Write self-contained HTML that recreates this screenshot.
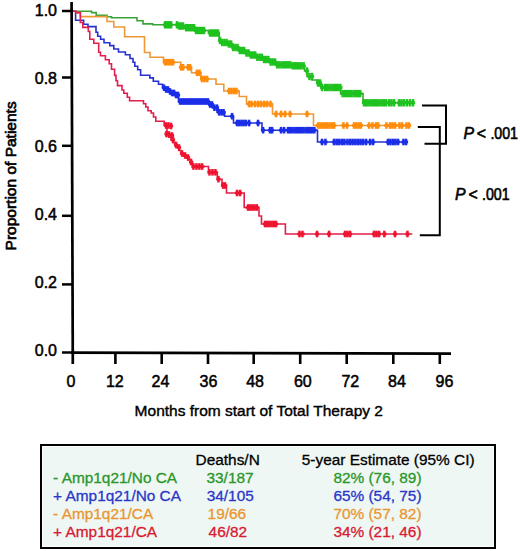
<!DOCTYPE html>
<html><head><meta charset="utf-8"><style>
html,body{margin:0;padding:0;background:#fff;width:520px;height:551px;overflow:hidden}
body{position:relative;font-family:"Liberation Sans",sans-serif}
svg{position:absolute;left:0;top:0}
.tk{font-family:"Liberation Sans",sans-serif;font-size:16px;fill:#000;stroke:#000;stroke-width:0.5px}
.pv{font-family:"Liberation Sans",sans-serif;font-size:15px;fill:#000;stroke:#000;stroke-width:0.6px}
.ttl{font-family:"Liberation Sans",sans-serif;font-size:15.5px;fill:#000;stroke:#000;stroke-width:0.4px}
.lg text{font-family:"Liberation Sans",sans-serif;font-size:15.4px;stroke-width:0.3px}
#leg{position:absolute;left:40px;top:443.5px;width:452px;height:101.5px;border:2px solid #000;background:#eef7f4;box-shadow:inset 0 0 0 1px #fff}
</style></head><body>
<div id="leg"></div>
<svg width="520" height="551" viewBox="0 0 520 551">
<path d="M72.5,11.3H91.5V12.6H96.2V15.3H107V16.8H111.5V17.7H137V20.8H143V23.9H152.7V24.8H177V26H184.6V27.7H194.6V30.5H208.5V33H219.2V40.5H222V42.5H228V44H233V47.5H239V50.5H244.6V53H250V55H256V57.3H263V59.5H270V62H276V64.8H291.5V65.8H304.6V71H307V76.5H312V80H317V83H321V87.5H340.6V93.6H363V102.8H413.6" fill="none" stroke="#38a438" stroke-width="1.6"/><g fill="#1ec21e"><rect x="163.8" y="21.1" width="2.5" height="7.4"/><rect x="162.9" y="23.4" width="4.2" height="2.8"/><rect x="165.8" y="21.1" width="2.5" height="7.4"/><rect x="164.9" y="23.4" width="4.2" height="2.8"/><rect x="167.8" y="21.1" width="2.5" height="7.4"/><rect x="166.9" y="23.4" width="4.2" height="2.8"/><rect x="169.8" y="21.1" width="2.5" height="7.4"/><rect x="168.9" y="23.4" width="4.2" height="2.8"/><rect x="175.8" y="21.1" width="2.5" height="7.4"/><rect x="174.9" y="23.4" width="4.2" height="2.8"/><rect x="177.8" y="22.3" width="2.5" height="7.4"/><rect x="176.9" y="24.6" width="4.2" height="2.8"/><rect x="179.8" y="22.3" width="2.5" height="7.4"/><rect x="178.9" y="24.6" width="4.2" height="2.8"/><rect x="181.8" y="22.3" width="2.5" height="7.4"/><rect x="180.9" y="24.6" width="4.2" height="2.8"/><rect x="184.8" y="24.0" width="2.5" height="7.4"/><rect x="183.9" y="26.3" width="4.2" height="2.8"/><rect x="186.8" y="24.0" width="2.5" height="7.4"/><rect x="185.9" y="26.3" width="4.2" height="2.8"/><rect x="188.8" y="24.0" width="2.5" height="7.4"/><rect x="187.9" y="26.3" width="4.2" height="2.8"/><rect x="190.8" y="24.0" width="2.5" height="7.4"/><rect x="189.9" y="26.3" width="4.2" height="2.8"/><rect x="192.8" y="24.0" width="2.5" height="7.4"/><rect x="191.9" y="26.3" width="4.2" height="2.8"/><rect x="194.8" y="26.8" width="2.5" height="7.4"/><rect x="193.9" y="29.1" width="4.2" height="2.8"/><rect x="196.8" y="26.8" width="2.5" height="7.4"/><rect x="195.9" y="29.1" width="4.2" height="2.8"/><rect x="198.8" y="26.8" width="2.5" height="7.4"/><rect x="197.9" y="29.1" width="4.2" height="2.8"/><rect x="200.8" y="26.8" width="2.5" height="7.4"/><rect x="199.9" y="29.1" width="4.2" height="2.8"/><rect x="202.8" y="26.8" width="2.5" height="7.4"/><rect x="201.9" y="29.1" width="4.2" height="2.8"/><rect x="208.8" y="29.3" width="2.5" height="7.4"/><rect x="207.9" y="31.6" width="4.2" height="2.8"/><rect x="210.8" y="29.3" width="2.5" height="7.4"/><rect x="209.9" y="31.6" width="4.2" height="2.8"/><rect x="212.8" y="29.3" width="2.5" height="7.4"/><rect x="211.9" y="31.6" width="4.2" height="2.8"/><rect x="214.8" y="29.3" width="2.5" height="7.4"/><rect x="213.9" y="31.6" width="4.2" height="2.8"/><rect x="216.8" y="29.3" width="2.5" height="7.4"/><rect x="215.9" y="31.6" width="4.2" height="2.8"/><rect x="218.8" y="36.8" width="2.5" height="7.4"/><rect x="217.9" y="39.1" width="4.2" height="2.8"/><rect x="220.9" y="38.8" width="2.5" height="7.4"/><rect x="220.1" y="41.1" width="4.2" height="2.8"/><rect x="223.2" y="38.8" width="2.5" height="7.4"/><rect x="222.3" y="41.1" width="4.2" height="2.8"/><rect x="225.3" y="38.8" width="2.5" height="7.4"/><rect x="224.5" y="41.1" width="4.2" height="2.8"/><rect x="227.6" y="40.3" width="2.5" height="7.4"/><rect x="226.7" y="42.6" width="4.2" height="2.8"/><rect x="229.8" y="40.3" width="2.5" height="7.4"/><rect x="228.9" y="42.6" width="4.2" height="2.8"/><rect x="231.9" y="43.8" width="2.5" height="7.4"/><rect x="231.1" y="46.1" width="4.2" height="2.8"/><rect x="234.2" y="43.8" width="2.5" height="7.4"/><rect x="233.3" y="46.1" width="4.2" height="2.8"/><rect x="236.3" y="43.8" width="2.5" height="7.4"/><rect x="235.5" y="46.1" width="4.2" height="2.8"/><rect x="238.6" y="46.8" width="2.5" height="7.4"/><rect x="237.7" y="49.1" width="4.2" height="2.8"/><rect x="240.8" y="46.8" width="2.5" height="7.4"/><rect x="239.9" y="49.1" width="4.2" height="2.8"/><rect x="242.9" y="46.8" width="2.5" height="7.4"/><rect x="242.1" y="49.1" width="4.2" height="2.8"/><rect x="245.2" y="49.3" width="2.5" height="7.4"/><rect x="244.3" y="51.6" width="4.2" height="2.8"/><rect x="247.3" y="49.3" width="2.5" height="7.4"/><rect x="246.5" y="51.6" width="4.2" height="2.8"/><rect x="249.6" y="51.3" width="2.5" height="7.4"/><rect x="248.7" y="53.6" width="4.2" height="2.8"/><rect x="251.8" y="51.3" width="2.5" height="7.4"/><rect x="250.9" y="53.6" width="4.2" height="2.8"/><rect x="253.9" y="51.3" width="2.5" height="7.4"/><rect x="253.1" y="53.6" width="4.2" height="2.8"/><rect x="256.1" y="53.6" width="2.5" height="7.4"/><rect x="255.3" y="55.9" width="4.2" height="2.8"/><rect x="258.4" y="53.6" width="2.5" height="7.4"/><rect x="257.5" y="55.9" width="4.2" height="2.8"/><rect x="260.6" y="53.6" width="2.5" height="7.4"/><rect x="259.7" y="55.9" width="4.2" height="2.8"/><rect x="262.8" y="55.8" width="2.5" height="7.4"/><rect x="261.9" y="58.1" width="4.2" height="2.8"/><rect x="264.9" y="55.8" width="2.5" height="7.4"/><rect x="264.1" y="58.1" width="4.2" height="2.8"/><rect x="267.1" y="55.8" width="2.5" height="7.4"/><rect x="266.3" y="58.1" width="4.2" height="2.8"/><rect x="269.4" y="58.3" width="2.5" height="7.4"/><rect x="268.5" y="60.6" width="4.2" height="2.8"/><rect x="271.6" y="58.3" width="2.5" height="7.4"/><rect x="270.7" y="60.6" width="4.2" height="2.8"/><rect x="273.8" y="58.3" width="2.5" height="7.4"/><rect x="272.9" y="60.6" width="4.2" height="2.8"/><rect x="275.9" y="61.1" width="2.5" height="7.4"/><rect x="275.1" y="63.4" width="4.2" height="2.8"/><rect x="278.1" y="61.1" width="2.5" height="7.4"/><rect x="277.3" y="63.4" width="4.2" height="2.8"/><rect x="280.4" y="61.1" width="2.5" height="7.4"/><rect x="279.5" y="63.4" width="4.2" height="2.8"/><rect x="282.6" y="61.1" width="2.5" height="7.4"/><rect x="281.7" y="63.4" width="4.2" height="2.8"/><rect x="284.8" y="61.1" width="2.5" height="7.4"/><rect x="283.9" y="63.4" width="4.2" height="2.8"/><rect x="286.9" y="61.1" width="2.5" height="7.4"/><rect x="286.1" y="63.4" width="4.2" height="2.8"/><rect x="289.1" y="61.1" width="2.5" height="7.4"/><rect x="288.3" y="63.4" width="4.2" height="2.8"/><rect x="291.4" y="62.1" width="2.5" height="7.4"/><rect x="290.5" y="64.4" width="4.2" height="2.8"/><rect x="293.6" y="62.1" width="2.5" height="7.4"/><rect x="292.7" y="64.4" width="4.2" height="2.8"/><rect x="295.8" y="62.1" width="2.5" height="7.4"/><rect x="294.9" y="64.4" width="4.2" height="2.8"/><rect x="297.9" y="62.1" width="2.5" height="7.4"/><rect x="297.1" y="64.4" width="4.2" height="2.8"/><rect x="300.1" y="62.1" width="2.5" height="7.4"/><rect x="299.3" y="64.4" width="4.2" height="2.8"/><rect x="302.4" y="62.1" width="2.5" height="7.4"/><rect x="301.5" y="64.4" width="4.2" height="2.8"/><rect x="305.8" y="67.3" width="2.5" height="7.4"/><rect x="304.9" y="69.6" width="4.2" height="2.8"/><rect x="308.2" y="72.8" width="2.5" height="7.4"/><rect x="307.4" y="75.1" width="4.2" height="2.8"/><rect x="310.8" y="72.8" width="2.5" height="7.4"/><rect x="309.9" y="75.1" width="4.2" height="2.8"/><rect x="316.8" y="79.3" width="2.5" height="7.4"/><rect x="315.9" y="81.6" width="4.2" height="2.8"/><rect x="318.8" y="79.3" width="2.5" height="7.4"/><rect x="317.9" y="81.6" width="4.2" height="2.8"/><rect x="320.8" y="83.8" width="2.5" height="7.4"/><rect x="319.9" y="86.1" width="4.2" height="2.8"/><rect x="323.8" y="83.8" width="2.5" height="7.4"/><rect x="322.9" y="86.1" width="4.2" height="2.8"/><rect x="325.9" y="83.8" width="2.5" height="7.4"/><rect x="325.1" y="86.1" width="4.2" height="2.8"/><rect x="328.1" y="83.8" width="2.5" height="7.4"/><rect x="327.3" y="86.1" width="4.2" height="2.8"/><rect x="330.4" y="83.8" width="2.5" height="7.4"/><rect x="329.5" y="86.1" width="4.2" height="2.8"/><rect x="332.6" y="83.8" width="2.5" height="7.4"/><rect x="331.7" y="86.1" width="4.2" height="2.8"/><rect x="334.8" y="83.8" width="2.5" height="7.4"/><rect x="333.9" y="86.1" width="4.2" height="2.8"/><rect x="336.9" y="83.8" width="2.5" height="7.4"/><rect x="336.1" y="86.1" width="4.2" height="2.8"/><rect x="339.1" y="83.8" width="2.5" height="7.4"/><rect x="338.3" y="86.1" width="4.2" height="2.8"/><rect x="341.4" y="89.9" width="2.5" height="7.4"/><rect x="340.5" y="92.2" width="4.2" height="2.8"/><rect x="343.6" y="89.9" width="2.5" height="7.4"/><rect x="342.7" y="92.2" width="4.2" height="2.8"/><rect x="345.8" y="89.9" width="2.5" height="7.4"/><rect x="344.9" y="92.2" width="4.2" height="2.8"/><rect x="347.9" y="89.9" width="2.5" height="7.4"/><rect x="347.1" y="92.2" width="4.2" height="2.8"/><rect x="350.1" y="89.9" width="2.5" height="7.4"/><rect x="349.3" y="92.2" width="4.2" height="2.8"/><rect x="352.4" y="89.9" width="2.5" height="7.4"/><rect x="351.5" y="92.2" width="4.2" height="2.8"/><rect x="354.6" y="89.9" width="2.5" height="7.4"/><rect x="353.7" y="92.2" width="4.2" height="2.8"/><rect x="356.8" y="89.9" width="2.5" height="7.4"/><rect x="355.9" y="92.2" width="4.2" height="2.8"/><rect x="358.9" y="89.9" width="2.5" height="7.4"/><rect x="358.1" y="92.2" width="4.2" height="2.8"/><rect x="362.8" y="99.1" width="2.5" height="7.4"/><rect x="361.9" y="101.4" width="4.2" height="2.8"/><rect x="364.9" y="99.1" width="2.5" height="7.4"/><rect x="364.1" y="101.4" width="4.2" height="2.8"/><rect x="367.1" y="99.1" width="2.5" height="7.4"/><rect x="366.3" y="101.4" width="4.2" height="2.8"/><rect x="369.4" y="99.1" width="2.5" height="7.4"/><rect x="368.5" y="101.4" width="4.2" height="2.8"/><rect x="371.6" y="99.1" width="2.5" height="7.4"/><rect x="370.7" y="101.4" width="4.2" height="2.8"/><rect x="373.8" y="99.1" width="2.5" height="7.4"/><rect x="372.9" y="101.4" width="4.2" height="2.8"/><rect x="375.9" y="99.1" width="2.5" height="7.4"/><rect x="375.1" y="101.4" width="4.2" height="2.8"/><rect x="378.1" y="99.1" width="2.5" height="7.4"/><rect x="377.3" y="101.4" width="4.2" height="2.8"/><rect x="380.4" y="99.1" width="2.5" height="7.4"/><rect x="379.5" y="101.4" width="4.2" height="2.8"/><rect x="382.6" y="99.1" width="2.5" height="7.4"/><rect x="381.7" y="101.4" width="4.2" height="2.8"/><rect x="384.8" y="99.1" width="2.5" height="7.4"/><rect x="383.9" y="101.4" width="4.2" height="2.8"/><rect x="387.8" y="99.1" width="2.5" height="7.4"/><rect x="386.9" y="101.4" width="4.2" height="2.8"/><rect x="390.2" y="99.1" width="2.5" height="7.4"/><rect x="389.4" y="101.4" width="4.2" height="2.8"/><rect x="392.8" y="99.1" width="2.5" height="7.4"/><rect x="391.9" y="101.4" width="4.2" height="2.8"/><rect x="397.8" y="99.1" width="2.5" height="7.4"/><rect x="396.9" y="101.4" width="4.2" height="2.8"/><rect x="400.2" y="99.1" width="2.5" height="7.4"/><rect x="399.4" y="101.4" width="4.2" height="2.8"/><rect x="402.8" y="99.1" width="2.5" height="7.4"/><rect x="401.9" y="101.4" width="4.2" height="2.8"/><rect x="405.8" y="99.1" width="2.5" height="7.4"/><rect x="404.9" y="101.4" width="4.2" height="2.8"/><rect x="408.8" y="99.1" width="2.5" height="7.4"/><rect x="407.9" y="101.4" width="4.2" height="2.8"/><rect x="411.8" y="99.1" width="2.5" height="7.4"/><rect x="410.9" y="101.4" width="4.2" height="2.8"/></g><path d="M72.5,11.3H76V12.6H80.4V16.6H107V21.5H113.8V27H124.6V36.8H144.5V52.5H150V57.2H163.5V62.2H180.8V67.3H191.5V72.8H200.8V79H216V84.2H223.8V91H239.2V96.5H246.5V104H272.5V114H313.5V125.5H410.8" fill="none" stroke="#ee9838" stroke-width="1.6"/><g fill="#ff8c0a"><rect x="163.8" y="58.9" width="2.5" height="6.6"/><rect x="162.9" y="60.8" width="4.2" height="2.8"/><rect x="165.8" y="58.9" width="2.5" height="6.6"/><rect x="164.9" y="60.8" width="4.2" height="2.8"/><rect x="167.8" y="58.9" width="2.5" height="6.6"/><rect x="166.9" y="60.8" width="4.2" height="2.8"/><rect x="169.8" y="58.9" width="2.5" height="6.6"/><rect x="168.9" y="60.8" width="4.2" height="2.8"/><rect x="171.8" y="58.9" width="2.5" height="6.6"/><rect x="170.9" y="60.8" width="4.2" height="2.8"/><rect x="179.8" y="64.0" width="2.5" height="6.6"/><rect x="178.9" y="65.9" width="4.2" height="2.8"/><rect x="181.8" y="64.0" width="2.5" height="6.6"/><rect x="180.9" y="65.9" width="4.2" height="2.8"/><rect x="186.8" y="64.0" width="2.5" height="6.6"/><rect x="185.9" y="65.9" width="4.2" height="2.8"/><rect x="188.8" y="64.0" width="2.5" height="6.6"/><rect x="187.9" y="65.9" width="4.2" height="2.8"/><rect x="195.8" y="69.5" width="2.5" height="6.6"/><rect x="194.9" y="71.4" width="4.2" height="2.8"/><rect x="198.2" y="69.5" width="2.5" height="6.6"/><rect x="197.4" y="71.4" width="4.2" height="2.8"/><rect x="200.8" y="75.7" width="2.5" height="6.6"/><rect x="199.9" y="77.6" width="4.2" height="2.8"/><rect x="203.2" y="75.7" width="2.5" height="6.6"/><rect x="202.4" y="77.6" width="4.2" height="2.8"/><rect x="205.8" y="75.7" width="2.5" height="6.6"/><rect x="204.9" y="77.6" width="4.2" height="2.8"/><rect x="227.8" y="87.7" width="2.5" height="6.6"/><rect x="226.9" y="89.6" width="4.2" height="2.8"/><rect x="230.2" y="87.7" width="2.5" height="6.6"/><rect x="229.4" y="89.6" width="4.2" height="2.8"/><rect x="232.8" y="87.7" width="2.5" height="6.6"/><rect x="231.9" y="89.6" width="4.2" height="2.8"/><rect x="235.2" y="87.7" width="2.5" height="6.6"/><rect x="234.4" y="89.6" width="4.2" height="2.8"/><rect x="247.8" y="100.7" width="2.5" height="6.6"/><rect x="246.9" y="102.6" width="4.2" height="2.8"/><rect x="250.2" y="100.7" width="2.5" height="6.6"/><rect x="249.4" y="102.6" width="4.2" height="2.8"/><rect x="253.8" y="100.7" width="2.5" height="6.6"/><rect x="252.9" y="102.6" width="4.2" height="2.8"/><rect x="256.8" y="100.7" width="2.5" height="6.6"/><rect x="255.9" y="102.6" width="4.2" height="2.8"/><rect x="259.8" y="100.7" width="2.5" height="6.6"/><rect x="258.9" y="102.6" width="4.2" height="2.8"/><rect x="262.8" y="100.7" width="2.5" height="6.6"/><rect x="261.9" y="102.6" width="4.2" height="2.8"/><rect x="265.8" y="100.7" width="2.5" height="6.6"/><rect x="264.9" y="102.6" width="4.2" height="2.8"/><rect x="269.2" y="100.7" width="2.5" height="6.6"/><rect x="268.4" y="102.6" width="4.2" height="2.8"/><rect x="274.8" y="110.7" width="2.5" height="6.6"/><rect x="273.9" y="112.6" width="4.2" height="2.8"/><rect x="279.8" y="110.7" width="2.5" height="6.6"/><rect x="278.9" y="112.6" width="4.2" height="2.8"/><rect x="283.8" y="110.7" width="2.5" height="6.6"/><rect x="282.9" y="112.6" width="4.2" height="2.8"/><rect x="288.8" y="110.7" width="2.5" height="6.6"/><rect x="287.9" y="112.6" width="4.2" height="2.8"/><rect x="305.8" y="110.7" width="2.5" height="6.6"/><rect x="304.9" y="112.6" width="4.2" height="2.8"/><rect x="316.8" y="122.2" width="2.5" height="6.6"/><rect x="315.9" y="124.1" width="4.2" height="2.8"/><rect x="319.1" y="122.2" width="2.5" height="6.6"/><rect x="318.2" y="124.1" width="4.2" height="2.8"/><rect x="321.4" y="122.2" width="2.5" height="6.6"/><rect x="320.5" y="124.1" width="4.2" height="2.8"/><rect x="323.6" y="122.2" width="2.5" height="6.6"/><rect x="322.8" y="124.1" width="4.2" height="2.8"/><rect x="325.9" y="122.2" width="2.5" height="6.6"/><rect x="325.1" y="124.1" width="4.2" height="2.8"/><rect x="328.2" y="122.2" width="2.5" height="6.6"/><rect x="327.4" y="124.1" width="4.2" height="2.8"/><rect x="330.6" y="122.2" width="2.5" height="6.6"/><rect x="329.7" y="124.1" width="4.2" height="2.8"/><rect x="332.9" y="122.2" width="2.5" height="6.6"/><rect x="332.0" y="124.1" width="4.2" height="2.8"/><rect x="342.2" y="122.2" width="2.5" height="6.6"/><rect x="341.4" y="124.1" width="4.2" height="2.8"/><rect x="345.8" y="122.2" width="2.5" height="6.6"/><rect x="344.9" y="124.1" width="4.2" height="2.8"/><rect x="352.8" y="122.2" width="2.5" height="6.6"/><rect x="351.9" y="124.1" width="4.2" height="2.8"/><rect x="355.1" y="122.2" width="2.5" height="6.6"/><rect x="354.2" y="124.1" width="4.2" height="2.8"/><rect x="357.4" y="122.2" width="2.5" height="6.6"/><rect x="356.5" y="124.1" width="4.2" height="2.8"/><rect x="359.6" y="122.2" width="2.5" height="6.6"/><rect x="358.8" y="124.1" width="4.2" height="2.8"/><rect x="367.8" y="122.2" width="2.5" height="6.6"/><rect x="366.9" y="124.1" width="4.2" height="2.8"/><rect x="371.2" y="122.2" width="2.5" height="6.6"/><rect x="370.4" y="124.1" width="4.2" height="2.8"/><rect x="374.8" y="122.2" width="2.5" height="6.6"/><rect x="373.9" y="124.1" width="4.2" height="2.8"/><rect x="376.8" y="122.2" width="2.5" height="6.6"/><rect x="375.9" y="124.1" width="4.2" height="2.8"/><rect x="385.2" y="122.2" width="2.5" height="6.6"/><rect x="384.4" y="124.1" width="4.2" height="2.8"/><rect x="388.8" y="122.2" width="2.5" height="6.6"/><rect x="387.9" y="124.1" width="4.2" height="2.8"/><rect x="391.2" y="122.2" width="2.5" height="6.6"/><rect x="390.4" y="124.1" width="4.2" height="2.8"/><rect x="393.8" y="122.2" width="2.5" height="6.6"/><rect x="392.9" y="124.1" width="4.2" height="2.8"/><rect x="398.2" y="122.2" width="2.5" height="6.6"/><rect x="397.4" y="124.1" width="4.2" height="2.8"/><rect x="400.8" y="122.2" width="2.5" height="6.6"/><rect x="399.9" y="124.1" width="4.2" height="2.8"/><rect x="405.2" y="122.2" width="2.5" height="6.6"/><rect x="404.4" y="124.1" width="4.2" height="2.8"/><rect x="407.8" y="122.2" width="2.5" height="6.6"/><rect x="406.9" y="124.1" width="4.2" height="2.8"/></g><path d="M72.5,11.3H75.6V20.3H83.6V24.2H88V26.6H96V32.3H97.7V36.3H100.6V39.2H104V42.7H109.8V45.6H113.8V49H118.5V52H125.4V54.8H130V58.5H133V62.3H134.8V66.3H137.7V69.8H140.6V75.2H149.8V77.9H153.3V81.3H158.5V84.2H162.5V87.7H164.8V89.5H168V91.5H171V93H174V95H178.5V101.5H209V104.5H212.3V107.7H217V112.3H224.6V116.2H233.5V123H262V130.2H317.5V142H407.7" fill="none" stroke="#2630cc" stroke-width="1.6"/><g fill="#1a2ee8"><rect x="162.8" y="84.4" width="2.5" height="6.6"/><rect x="161.9" y="86.3" width="4.2" height="2.8"/><rect x="164.8" y="86.2" width="2.5" height="6.6"/><rect x="163.9" y="88.1" width="4.2" height="2.8"/><rect x="166.8" y="86.2" width="2.5" height="6.6"/><rect x="165.9" y="88.1" width="4.2" height="2.8"/><rect x="168.8" y="88.2" width="2.5" height="6.6"/><rect x="167.9" y="90.1" width="4.2" height="2.8"/><rect x="170.8" y="89.7" width="2.5" height="6.6"/><rect x="169.9" y="91.6" width="4.2" height="2.8"/><rect x="172.8" y="89.7" width="2.5" height="6.6"/><rect x="171.9" y="91.6" width="4.2" height="2.8"/><rect x="174.8" y="91.7" width="2.5" height="6.6"/><rect x="173.9" y="93.6" width="4.2" height="2.8"/><rect x="176.8" y="91.7" width="2.5" height="6.6"/><rect x="175.9" y="93.6" width="4.2" height="2.8"/><rect x="178.8" y="98.2" width="2.5" height="6.6"/><rect x="177.9" y="100.1" width="4.2" height="2.8"/><rect x="180.8" y="98.2" width="2.5" height="6.6"/><rect x="179.9" y="100.1" width="4.2" height="2.8"/><rect x="182.8" y="98.2" width="2.5" height="6.6"/><rect x="181.9" y="100.1" width="4.2" height="2.8"/><rect x="184.8" y="98.2" width="2.5" height="6.6"/><rect x="183.9" y="100.1" width="4.2" height="2.8"/><rect x="186.8" y="98.2" width="2.5" height="6.6"/><rect x="185.9" y="100.1" width="4.2" height="2.8"/><rect x="188.8" y="98.2" width="2.5" height="6.6"/><rect x="187.9" y="100.1" width="4.2" height="2.8"/><rect x="190.8" y="98.2" width="2.5" height="6.6"/><rect x="189.9" y="100.1" width="4.2" height="2.8"/><rect x="192.8" y="98.2" width="2.5" height="6.6"/><rect x="191.9" y="100.1" width="4.2" height="2.8"/><rect x="194.8" y="98.2" width="2.5" height="6.6"/><rect x="193.9" y="100.1" width="4.2" height="2.8"/><rect x="196.8" y="98.2" width="2.5" height="6.6"/><rect x="195.9" y="100.1" width="4.2" height="2.8"/><rect x="198.8" y="98.2" width="2.5" height="6.6"/><rect x="197.9" y="100.1" width="4.2" height="2.8"/><rect x="200.8" y="98.2" width="2.5" height="6.6"/><rect x="199.9" y="100.1" width="4.2" height="2.8"/><rect x="202.8" y="98.2" width="2.5" height="6.6"/><rect x="201.9" y="100.1" width="4.2" height="2.8"/><rect x="204.8" y="98.2" width="2.5" height="6.6"/><rect x="203.9" y="100.1" width="4.2" height="2.8"/><rect x="206.8" y="98.2" width="2.5" height="6.6"/><rect x="205.9" y="100.1" width="4.2" height="2.8"/><rect x="208.8" y="101.2" width="2.5" height="6.6"/><rect x="207.9" y="103.1" width="4.2" height="2.8"/><rect x="210.8" y="101.2" width="2.5" height="6.6"/><rect x="209.9" y="103.1" width="4.2" height="2.8"/><rect x="213.2" y="104.4" width="2.5" height="6.6"/><rect x="212.4" y="106.3" width="4.2" height="2.8"/><rect x="215.8" y="104.4" width="2.5" height="6.6"/><rect x="214.9" y="106.3" width="4.2" height="2.8"/><rect x="217.9" y="109.0" width="2.5" height="6.6"/><rect x="217.1" y="110.9" width="4.2" height="2.8"/><rect x="220.2" y="109.0" width="2.5" height="6.6"/><rect x="219.3" y="110.9" width="4.2" height="2.8"/><rect x="222.3" y="109.0" width="2.5" height="6.6"/><rect x="221.5" y="110.9" width="4.2" height="2.8"/><rect x="230.8" y="112.9" width="2.5" height="6.6"/><rect x="229.9" y="114.8" width="4.2" height="2.8"/><rect x="235.8" y="119.7" width="2.5" height="6.6"/><rect x="234.9" y="121.6" width="4.2" height="2.8"/><rect x="237.9" y="119.7" width="2.5" height="6.6"/><rect x="237.1" y="121.6" width="4.2" height="2.8"/><rect x="240.2" y="119.7" width="2.5" height="6.6"/><rect x="239.3" y="121.6" width="4.2" height="2.8"/><rect x="242.3" y="119.7" width="2.5" height="6.6"/><rect x="241.5" y="121.6" width="4.2" height="2.8"/><rect x="244.6" y="119.7" width="2.5" height="6.6"/><rect x="243.7" y="121.6" width="4.2" height="2.8"/><rect x="247.8" y="119.7" width="2.5" height="6.6"/><rect x="246.9" y="121.6" width="4.2" height="2.8"/><rect x="256.8" y="119.7" width="2.5" height="6.6"/><rect x="255.9" y="121.6" width="4.2" height="2.8"/><rect x="261.8" y="126.9" width="2.5" height="6.6"/><rect x="260.9" y="128.8" width="4.2" height="2.8"/><rect x="268.8" y="126.9" width="2.5" height="6.6"/><rect x="267.9" y="128.8" width="4.2" height="2.8"/><rect x="270.8" y="126.9" width="2.5" height="6.6"/><rect x="269.9" y="128.8" width="4.2" height="2.8"/><rect x="279.8" y="126.9" width="2.5" height="6.6"/><rect x="278.9" y="128.8" width="4.2" height="2.8"/><rect x="282.8" y="126.9" width="2.5" height="6.6"/><rect x="281.9" y="128.8" width="4.2" height="2.8"/><rect x="286.8" y="126.9" width="2.5" height="6.6"/><rect x="285.9" y="128.8" width="4.2" height="2.8"/><rect x="288.9" y="126.9" width="2.5" height="6.6"/><rect x="288.1" y="128.8" width="4.2" height="2.8"/><rect x="291.1" y="126.9" width="2.5" height="6.6"/><rect x="290.3" y="128.8" width="4.2" height="2.8"/><rect x="293.4" y="126.9" width="2.5" height="6.6"/><rect x="292.5" y="128.8" width="4.2" height="2.8"/><rect x="295.6" y="126.9" width="2.5" height="6.6"/><rect x="294.7" y="128.8" width="4.2" height="2.8"/><rect x="297.8" y="126.9" width="2.5" height="6.6"/><rect x="296.9" y="128.8" width="4.2" height="2.8"/><rect x="299.9" y="126.9" width="2.5" height="6.6"/><rect x="299.1" y="128.8" width="4.2" height="2.8"/><rect x="302.1" y="126.9" width="2.5" height="6.6"/><rect x="301.3" y="128.8" width="4.2" height="2.8"/><rect x="304.4" y="126.9" width="2.5" height="6.6"/><rect x="303.5" y="128.8" width="4.2" height="2.8"/><rect x="306.6" y="126.9" width="2.5" height="6.6"/><rect x="305.7" y="128.8" width="4.2" height="2.8"/><rect x="308.8" y="126.9" width="2.5" height="6.6"/><rect x="307.9" y="128.8" width="4.2" height="2.8"/><rect x="310.9" y="126.9" width="2.5" height="6.6"/><rect x="310.1" y="128.8" width="4.2" height="2.8"/><rect x="313.1" y="126.9" width="2.5" height="6.6"/><rect x="312.3" y="128.8" width="4.2" height="2.8"/><rect x="320.8" y="138.7" width="2.5" height="6.6"/><rect x="319.9" y="140.6" width="4.2" height="2.8"/><rect x="324.2" y="138.7" width="2.5" height="6.6"/><rect x="323.4" y="140.6" width="4.2" height="2.8"/><rect x="332.8" y="138.7" width="2.5" height="6.6"/><rect x="331.9" y="140.6" width="4.2" height="2.8"/><rect x="335.4" y="138.7" width="2.5" height="6.6"/><rect x="334.5" y="140.6" width="4.2" height="2.8"/><rect x="337.9" y="138.7" width="2.5" height="6.6"/><rect x="337.1" y="140.6" width="4.2" height="2.8"/><rect x="340.6" y="138.7" width="2.5" height="6.6"/><rect x="339.7" y="140.6" width="4.2" height="2.8"/><rect x="343.1" y="138.7" width="2.5" height="6.6"/><rect x="342.3" y="140.6" width="4.2" height="2.8"/><rect x="346.2" y="138.7" width="2.5" height="6.6"/><rect x="345.4" y="140.6" width="4.2" height="2.8"/><rect x="348.9" y="138.7" width="2.5" height="6.6"/><rect x="348.0" y="140.6" width="4.2" height="2.8"/><rect x="351.4" y="138.7" width="2.5" height="6.6"/><rect x="350.6" y="140.6" width="4.2" height="2.8"/><rect x="354.1" y="138.7" width="2.5" height="6.6"/><rect x="353.2" y="140.6" width="4.2" height="2.8"/><rect x="356.6" y="138.7" width="2.5" height="6.6"/><rect x="355.8" y="140.6" width="4.2" height="2.8"/><rect x="359.2" y="138.7" width="2.5" height="6.6"/><rect x="358.4" y="140.6" width="4.2" height="2.8"/><rect x="361.8" y="138.7" width="2.5" height="6.6"/><rect x="360.9" y="140.6" width="4.2" height="2.8"/><rect x="364.8" y="138.7" width="2.5" height="6.6"/><rect x="363.9" y="140.6" width="4.2" height="2.8"/><rect x="368.8" y="138.7" width="2.5" height="6.6"/><rect x="367.9" y="140.6" width="4.2" height="2.8"/><rect x="371.8" y="138.7" width="2.5" height="6.6"/><rect x="370.9" y="140.6" width="4.2" height="2.8"/><rect x="386.8" y="138.7" width="2.5" height="6.6"/><rect x="385.9" y="140.6" width="4.2" height="2.8"/><rect x="389.2" y="138.7" width="2.5" height="6.6"/><rect x="388.4" y="140.6" width="4.2" height="2.8"/><rect x="391.8" y="138.7" width="2.5" height="6.6"/><rect x="390.9" y="140.6" width="4.2" height="2.8"/><rect x="394.2" y="138.7" width="2.5" height="6.6"/><rect x="393.4" y="140.6" width="4.2" height="2.8"/><rect x="396.8" y="138.7" width="2.5" height="6.6"/><rect x="395.9" y="140.6" width="4.2" height="2.8"/><rect x="402.2" y="138.7" width="2.5" height="6.6"/><rect x="401.4" y="140.6" width="4.2" height="2.8"/><rect x="404.8" y="138.7" width="2.5" height="6.6"/><rect x="403.9" y="140.6" width="4.2" height="2.8"/></g><path d="M72.5,11.3H75.7V12.6H80.3V22.5H82.8V27.4H88.3V31.5H89.8V39.2H93.8V43.2H98.7V52.3H100.5V55.8H105.4V59.8H109.2V63.8H111.5V69.2H114.6V75.4H116V80.8H117.5V85.6H122V90H123.8V93.2H127.3V97.2H129.6V100.8H143.5V103.8H145.8V107H148V110.8H151.2V113H153.5V117H155.8V121.3H164.2V125.5H167V133H169V137H171V140H173V142.5H175V145H177V147.5H179V150.5H181V153.5H183V155.5H185.5V157.5H188V159.5H190.5V162H192.5V166.5H208.5V172.3H217.3V179.2H222V185.5H226.5V193H244.2V207.5H259V216H261.5V224H285.4V234H412.3" fill="none" stroke="#e21e4c" stroke-width="1.6"/><g fill="#ee1430"><rect x="164.8" y="122.2" width="2.5" height="6.6"/><rect x="163.9" y="124.1" width="4.2" height="2.8"/><rect x="167.2" y="122.2" width="2.5" height="6.6"/><rect x="166.4" y="124.1" width="4.2" height="2.8"/><rect x="169.8" y="122.7" width="2.5" height="6.6"/><rect x="168.9" y="124.6" width="4.2" height="2.8"/><rect x="165.2" y="130.7" width="2.5" height="6.6"/><rect x="164.4" y="132.6" width="4.2" height="2.8"/><rect x="167.8" y="131.2" width="2.5" height="6.6"/><rect x="166.9" y="133.1" width="4.2" height="2.8"/><rect x="170.8" y="132.2" width="2.5" height="6.6"/><rect x="169.9" y="134.1" width="4.2" height="2.8"/><rect x="171.8" y="136.7" width="2.5" height="6.6"/><rect x="170.9" y="138.6" width="4.2" height="2.8"/><rect x="174.8" y="141.7" width="2.5" height="6.6"/><rect x="173.9" y="143.6" width="4.2" height="2.8"/><rect x="177.8" y="144.2" width="2.5" height="6.6"/><rect x="176.9" y="146.1" width="4.2" height="2.8"/><rect x="180.8" y="150.2" width="2.5" height="6.6"/><rect x="179.9" y="152.1" width="4.2" height="2.8"/><rect x="183.8" y="152.2" width="2.5" height="6.6"/><rect x="182.9" y="154.1" width="4.2" height="2.8"/><rect x="186.8" y="154.2" width="2.5" height="6.6"/><rect x="185.9" y="156.1" width="4.2" height="2.8"/><rect x="189.8" y="158.7" width="2.5" height="6.6"/><rect x="188.9" y="160.6" width="4.2" height="2.8"/><rect x="192.2" y="163.2" width="2.5" height="6.6"/><rect x="191.4" y="165.1" width="4.2" height="2.8"/><rect x="195.2" y="163.2" width="2.5" height="6.6"/><rect x="194.3" y="165.1" width="4.2" height="2.8"/><rect x="198.1" y="163.2" width="2.5" height="6.6"/><rect x="197.2" y="165.1" width="4.2" height="2.8"/><rect x="200.9" y="163.2" width="2.5" height="6.6"/><rect x="200.1" y="165.1" width="4.2" height="2.8"/><rect x="208.2" y="169.0" width="2.5" height="6.6"/><rect x="207.4" y="170.9" width="4.2" height="2.8"/><rect x="211.2" y="169.0" width="2.5" height="6.6"/><rect x="210.4" y="170.9" width="4.2" height="2.8"/><rect x="214.2" y="169.0" width="2.5" height="6.6"/><rect x="213.4" y="170.9" width="4.2" height="2.8"/><rect x="217.2" y="175.9" width="2.5" height="6.6"/><rect x="216.4" y="177.8" width="4.2" height="2.8"/><rect x="221.8" y="182.2" width="2.5" height="6.6"/><rect x="220.9" y="184.1" width="4.2" height="2.8"/><rect x="223.8" y="182.2" width="2.5" height="6.6"/><rect x="222.9" y="184.1" width="4.2" height="2.8"/><rect x="235.8" y="189.7" width="2.5" height="6.6"/><rect x="234.9" y="191.6" width="4.2" height="2.8"/><rect x="238.8" y="189.7" width="2.5" height="6.6"/><rect x="237.9" y="191.6" width="4.2" height="2.8"/><rect x="246.8" y="204.2" width="2.5" height="6.6"/><rect x="245.9" y="206.1" width="4.2" height="2.8"/><rect x="248.9" y="204.2" width="2.5" height="6.6"/><rect x="248.1" y="206.1" width="4.2" height="2.8"/><rect x="251.2" y="204.2" width="2.5" height="6.6"/><rect x="250.3" y="206.1" width="4.2" height="2.8"/><rect x="253.3" y="204.2" width="2.5" height="6.6"/><rect x="252.5" y="206.1" width="4.2" height="2.8"/><rect x="255.6" y="204.2" width="2.5" height="6.6"/><rect x="254.7" y="206.1" width="4.2" height="2.8"/><rect x="263.8" y="220.7" width="2.5" height="6.6"/><rect x="262.9" y="222.6" width="4.2" height="2.8"/><rect x="265.9" y="220.7" width="2.5" height="6.6"/><rect x="265.1" y="222.6" width="4.2" height="2.8"/><rect x="268.1" y="220.7" width="2.5" height="6.6"/><rect x="267.3" y="222.6" width="4.2" height="2.8"/><rect x="270.4" y="220.7" width="2.5" height="6.6"/><rect x="269.5" y="222.6" width="4.2" height="2.8"/><rect x="272.6" y="220.7" width="2.5" height="6.6"/><rect x="271.7" y="222.6" width="4.2" height="2.8"/><rect x="274.8" y="220.7" width="2.5" height="6.6"/><rect x="273.9" y="222.6" width="4.2" height="2.8"/><rect x="298.2" y="230.7" width="2.5" height="6.6"/><rect x="297.4" y="232.6" width="4.2" height="2.8"/><rect x="301.2" y="230.7" width="2.5" height="6.6"/><rect x="300.4" y="232.6" width="4.2" height="2.8"/><rect x="315.8" y="230.7" width="2.5" height="6.6"/><rect x="314.9" y="232.6" width="4.2" height="2.8"/><rect x="327.8" y="230.7" width="2.5" height="6.6"/><rect x="326.9" y="232.6" width="4.2" height="2.8"/><rect x="343.8" y="230.7" width="2.5" height="6.6"/><rect x="342.9" y="232.6" width="4.2" height="2.8"/><rect x="346.2" y="230.7" width="2.5" height="6.6"/><rect x="345.4" y="232.6" width="4.2" height="2.8"/><rect x="348.8" y="230.7" width="2.5" height="6.6"/><rect x="347.9" y="232.6" width="4.2" height="2.8"/><rect x="372.8" y="230.7" width="2.5" height="6.6"/><rect x="371.9" y="232.6" width="4.2" height="2.8"/><rect x="375.2" y="230.7" width="2.5" height="6.6"/><rect x="374.4" y="232.6" width="4.2" height="2.8"/><rect x="377.8" y="230.7" width="2.5" height="6.6"/><rect x="376.9" y="232.6" width="4.2" height="2.8"/><rect x="383.1" y="230.7" width="2.5" height="6.6"/><rect x="382.3" y="232.6" width="4.2" height="2.8"/><rect x="393.8" y="230.7" width="2.5" height="6.6"/><rect x="392.9" y="232.6" width="4.2" height="2.8"/><rect x="406.2" y="230.7" width="2.5" height="6.6"/><rect x="405.4" y="232.6" width="4.2" height="2.8"/></g>
<line x1="71.6" y1="2" x2="72.8" y2="364" stroke="#000" stroke-width="2.7"/><line x1="71" y1="352.6" x2="451" y2="353.6" stroke="#000" stroke-width="2.7"/><text x="71" y="387" text-anchor="middle" class="tk">0</text><line x1="115.4" y1="353" x2="115.4" y2="364" stroke="#000" stroke-width="2.6"/><text x="114.8" y="387" text-anchor="middle" class="tk">12</text><line x1="161.7" y1="353" x2="161.7" y2="364" stroke="#000" stroke-width="2.6"/><text x="160.4" y="387" text-anchor="middle" class="tk">24</text><line x1="208" y1="353" x2="208" y2="364" stroke="#000" stroke-width="2.6"/><text x="208.5" y="387" text-anchor="middle" class="tk">36</text><line x1="253.7" y1="353" x2="253.7" y2="364" stroke="#000" stroke-width="2.6"/><text x="255.1" y="387" text-anchor="middle" class="tk">48</text><line x1="300.2" y1="353" x2="300.2" y2="364" stroke="#000" stroke-width="2.6"/><text x="302.8" y="387" text-anchor="middle" class="tk">60</text><line x1="346.7" y1="353" x2="346.7" y2="364" stroke="#000" stroke-width="2.6"/><text x="350.3" y="387" text-anchor="middle" class="tk">72</text><line x1="393.3" y1="353" x2="393.3" y2="364" stroke="#000" stroke-width="2.6"/><text x="397" y="387" text-anchor="middle" class="tk">84</text><line x1="439.8" y1="353" x2="439.8" y2="364" stroke="#000" stroke-width="2.6"/><text x="444.5" y="387" text-anchor="middle" class="tk">96</text><line x1="62" y1="11" x2="72" y2="11" stroke="#000" stroke-width="2.5"/><text x="57" y="15.6" text-anchor="end" class="tk">1.0</text><line x1="62" y1="77.5" x2="72" y2="77.5" stroke="#000" stroke-width="2.5"/><text x="57" y="83.5" text-anchor="end" class="tk">0.8</text><line x1="62" y1="145.8" x2="72" y2="145.8" stroke="#000" stroke-width="2.5"/><text x="57" y="152.3" text-anchor="end" class="tk">0.6</text><line x1="62" y1="215.8" x2="72" y2="215.8" stroke="#000" stroke-width="2.5"/><text x="57" y="219.7" text-anchor="end" class="tk">0.4</text><line x1="62" y1="284.4" x2="72" y2="284.4" stroke="#000" stroke-width="2.5"/><text x="57" y="287.6" text-anchor="end" class="tk">0.2</text><line x1="62" y1="352.5" x2="72" y2="352.5" stroke="#000" stroke-width="2.5"/><text x="57" y="355.9" text-anchor="end" class="tk">0.0</text>
<g stroke="#000" stroke-width="2" fill="none"><path d="M422,105.4H446V143.8H424.5"/><path d="M417.8,127H439.8V235.2H419.8"/></g>
<text x="463.4" y="139.2" class="pv" style="font-size:15.8px"><tspan font-style="italic">P</tspan><tspan dx="2.9">&lt;</tspan></text><text x="490.4" y="139.2" class="pv" style="font-size:15.8px" textLength="27.6" lengthAdjust="spacingAndGlyphs">.001</text><text x="455.0" y="200.1" class="pv" style="font-size:15.8px"><tspan font-style="italic">P</tspan><tspan dx="2.9">&lt;</tspan></text><text x="482.0" y="200.1" class="pv" style="font-size:15.8px" textLength="27.6" lengthAdjust="spacingAndGlyphs">.001</text>
<text x="134.6" y="415.5" class="ttl">Months from start of Total Therapy 2</text><text transform="translate(16,250.4) rotate(-90)" class="ttl" style="font-size:15.5px;stroke-width:0.65px">Proportion of Patients</text>
<g class="lg"><text x="195.6" y="465.2" fill="#000" stroke="#000">Deaths/N</text><text x="301.8" y="465.3" fill="#000" stroke="#000">5-year Estimate (95% CI)</text><text x="53.1" y="483.2" fill="#2a9628" stroke="#2a9628">- Amp1q21/No CA</text><text x="53.1" y="501.3" fill="#2a36c8" stroke="#2a36c8">+ Amp1q21/No CA</text><text x="53.1" y="519.4" fill="#ea962e" stroke="#ea962e">- Amp1q21/CA</text><text x="53.1" y="537.2" fill="#d81a32" stroke="#d81a32">+ Amp1q21/CA</text><text x="206.5" y="482.6" fill="#2a9628" stroke="#2a9628">33/187</text><text x="206.7" y="501.2" fill="#2a36c8" stroke="#2a36c8">34/105</text><text x="207.6" y="519.3" fill="#ea962e" stroke="#ea962e">19/66</text><text x="208.6" y="537.4" fill="#d81a32" stroke="#d81a32">46/82</text><text x="333.4" y="482.6" fill="#2a9628" stroke="#2a9628">82% (76, 89)</text><text x="333.4" y="501.2" fill="#2a36c8" stroke="#2a36c8">65% (54, 75)</text><text x="333.4" y="519.3" fill="#ea962e" stroke="#ea962e">70% (57, 82)</text><text x="333.4" y="537.2" fill="#d81a32" stroke="#d81a32">34% (21, 46)</text></g>
</svg>
</body></html>
